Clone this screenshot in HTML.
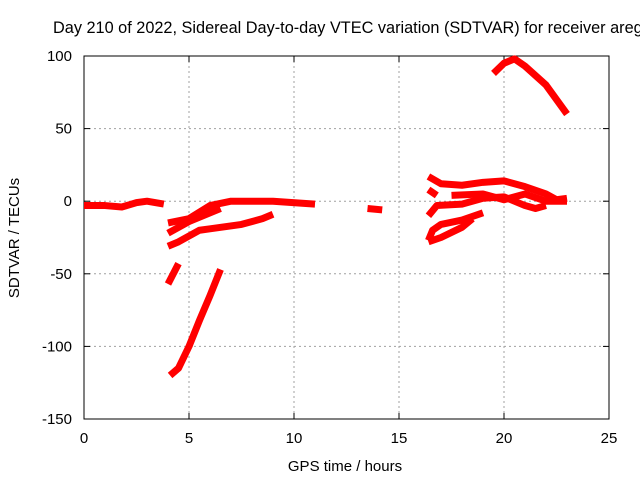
<!DOCTYPE html>
<html><head><meta charset="utf-8"><style>
body{margin:0;background:#fff;font-family:"Liberation Sans",sans-serif;}
svg text{font-family:"Liberation Sans",sans-serif;font-size:15px;fill:#000;}
</style></head><body>
<svg id="chart" width="640" height="480" viewBox="0 0 640 480" xmlns="http://www.w3.org/2000/svg">
<rect width="640" height="480" fill="#fff"/>
<text x="53" y="33" style="font-size:16.3px">Day 210 of 2022, Sidereal Day-to-day VTEC variation (SDTVAR) for receiver areg</text>
<g id="grid"></g>
<g id="axes"></g>
<g id="series"></g>
<text x="345" y="471" text-anchor="middle">GPS time / hours</text>
<text transform="translate(19,238) rotate(-90)" text-anchor="middle">SDTVAR / TECUs</text>
</svg>
<script>
const xTicks=[0,5,10,15,20,25];
const yTicks=[100,50,0,-50,-100,-150];
const segA=[[0,-3],[1,-3],[1.8,-4],[2.5,-1],[3,0],[3.8,-2]];
const segB=[[4.0,-15],[5,-12],[6,-3],[7,0],[9,0],[11,-2]];
const segC=[[4.0,-31],[4.5,-28],[5.5,-20],[6,-19],[7.5,-16],[8.5,-12],[9,-9]];
const segD=[[4.0,-22],[5,-14],[6.5,-5]];
const segE=[[4.0,-57],[4.5,-43]];
const segF=[[4.1,-120],[4.5,-115],[5,-100],[5.5,-82],[6.0,-65],[6.5,-47]];
const segG=[[13.5,-5],[14.2,-6]];
const segH=[[19.5,88],[20,95],[20.5,98],[21,93],[22,80],[23,60]];
const segI=[[16.4,17],[17,12],[18,11],[19,13],[20,14],[21,10],[22,5],[22.5,1],[23,2]];
const segJ=[[16.4,8],[16.8,4]];
const segK=[[16.4,-10],[16.8,-3],[18,-2],[19,2],[20,3],[21,-3],[21.5,-5],[22,-3]];
const segL=[[16.4,-27],[16.6,-20],[17,-16],[18,-13],[19,-8]];
const segM=[[16.4,-28],[17,-25],[18,-18],[18.5,-12]];
const segN=[[17.5,4],[19,5],[20,1],[21,5],[22,0],[23,0]];
const segments=[segA,segB,segC,segD,segE,segF,segG,segH,segI,segJ,segK,segL,segM,segN];
const X0=84,X1=609,Y0=56,Y1=419;
const xs=v=>X0+(v-0)/(25-0)*(X1-X0);
const ys=v=>Y1-(v+150)/(250)*(Y1-Y0);
const NS='http://www.w3.org/2000/svg';
const grid=document.getElementById('grid'),axes=document.getElementById('axes'),ser=document.getElementById('series');
function mk(tag,attrs,parent){const e=document.createElementNS(NS,tag);for(const k in attrs)e.setAttribute(k,attrs[k]);parent.appendChild(e);return e;}
xTicks.forEach(t=>{const x=xs(t);
 if(t>0&&t<25){const g=mk('line',{x1:x,x2:x,y1:Y0,y2:Y1,stroke:'#a0a0a0','stroke-dasharray':'2,3'},grid);
 }
 const l=mk('line',{x1:x,x2:x,y1:Y1,y2:Y1-6,stroke:'#000'},axes);
 
 const l2=mk('line',{x1:x,x2:x,y1:Y0,y2:Y0+6,stroke:'#000'},axes);
 
 const tx=mk('text',{x:x,y:443,'text-anchor':'middle'},axes);tx.textContent=t;
 });
yTicks.forEach(t=>{const y=ys(t);
 if(t>-150&&t<100){const g=mk('line',{x1:X0,x2:X1,y1:y,y2:y,stroke:'#a0a0a0','stroke-dasharray':'2,3'},grid);
 }
 const l=mk('line',{x1:X0,x2:X0+6,y1:y,y2:y,stroke:'#000'},axes);
 
 const l2=mk('line',{x1:X1,x2:X1-6,y1:y,y2:y,stroke:'#000'},axes);
 
 const tx=mk('text',{x:72,y:y+5,'text-anchor':'end'},axes);tx.textContent=t;
 });
const fr=mk('rect',{x:X0,y:Y0,width:X1-X0,height:Y1-Y0,fill:'none',stroke:'#000'},axes);

segments.forEach(s=>{const p=mk('polyline',{points:s.map(d=>xs(d[0])+','+ys(d[1])).join(' '),fill:'none',stroke:'#f00','stroke-width':7,'stroke-linejoin':'round'},ser);
 });
</script>
</body></html>
